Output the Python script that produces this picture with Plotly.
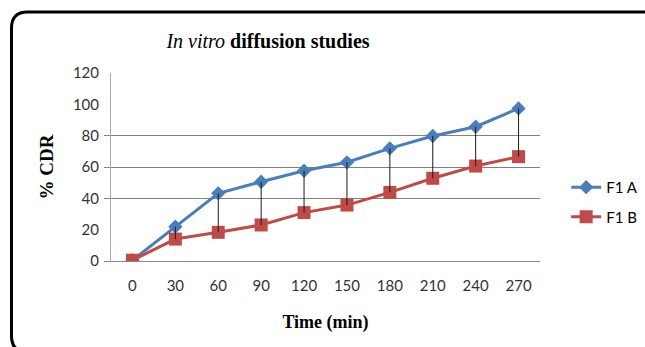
import plotly.graph_objects as go

time_labels = ["0", "30", "60", "90", "120", "150", "180", "210", "240", "270"]
f1a = [0.5, 21.9, 43.2, 50.6, 57.6, 63.0, 71.9, 79.8, 85.7, 97.4]
f1b = [0.5, 14.0, 18.3, 23.0, 30.9, 35.7, 43.8, 52.8, 60.6, 66.6]
grid_vals = [0, 40, 60, 80]
y_ticks = [0, 20, 40, 60, 80, 100, 120]

W, H = 645, 347
L, R, T, B = 111, 105, 73, 86
pw, ph = W - L - R, H - T - B

fig = go.Figure()

fig.add_trace(go.Scatter(
    x=time_labels, y=f1a, name="F1 A", mode="lines+markers",
    line=dict(color="#4A7EBB", width=3),
    marker=dict(symbol="diamond", size=11, color="#4A7EBB"),
    legendgroup="a",
))
fig.add_trace(go.Scatter(
    x=time_labels, y=f1b, name="F1 B", mode="lines+markers",
    line=dict(color="#BE4B48", width=3),
    marker=dict(symbol="square", size=13, color="#BE4B48"),
    legendgroup="b",
))

# high-low drop lines
dx, dy = [], []
for t, a, b in zip(time_labels[1:], f1a[1:], f1b[1:]):
    dx += [t, t, None]
    dy += [a, b, None]
fig.add_trace(go.Scatter(
    x=dx, y=dy, mode="lines", line=dict(color="#1a1a1a", width=1),
    showlegend=False, hoverinfo="skip",
))

# grid axis (overlay)
fig.add_trace(go.Scatter(x=[time_labels[0]], y=[0], yaxis="y2", mode="markers",
                         marker=dict(opacity=0), showlegend=False, hoverinfo="skip"))


def px2paper_x(p):
    return (p - L) / pw


def px2paper_y(p):
    return (H - B - p) / ph


x0, x1 = px2paper_x(11.5), px2paper_x(660)
y0, y1 = px2paper_y(12), px2paper_y(352)
rx, ry = 16 / pw, 16 / ph
path = (f"M {x0},{y1 + ry} L {x0},{y0 - ry} Q {x0},{y0} {x0 + rx},{y0} "
        f"L {x1 - rx},{y0} Q {x1},{y0} {x1},{y0 - ry} "
        f"L {x1},{y1 + ry} Q {x1},{y1} {x1 - rx},{y1} "
        f"L {x0 + rx},{y1} Q {x0},{y1} {x0},{y1 + ry} Z")

fig.update_layout(
    width=W, height=H,
    margin=dict(l=L, r=R, t=T, b=B, autoexpand=False),
    paper_bgcolor="white", plot_bgcolor="white",
    title=dict(
        text="<i>In vitro</i> <b>diffusion studies</b>",
        font=dict(family="Liberation Serif", size=20, color="#000"),
        x=268 / W, xanchor="center", xref="container",
        y=1 - 41 / H, yanchor="middle", yref="container",
    ),
    xaxis=dict(
        type="category", categoryorder="array", categoryarray=time_labels,
        range=[-0.5, 9.5], showgrid=False, showline=True, linecolor="#888",
        linewidth=1, ticks="outside", ticklen=11, tickcolor="rgba(0,0,0,0)",
        tickfont=dict(family="Lato", size=15, color="#333"),
        title=dict(text="<b>Time (min)</b>", standoff=22,
                   font=dict(family="Liberation Serif", size=18, color="#000")),
        zeroline=False,
    ),
    yaxis=dict(
        range=[0, 120], tickvals=y_ticks, showgrid=False, showline=True,
        linecolor="#aaa", linewidth=1, zeroline=False, ticks="outside",
        ticklen=8, tickcolor="rgba(0,0,0,0)",
        tickfont=dict(family="Lato", size=15, color="#333"),
        title=dict(text="<b>% CDR</b>", standoff=14,
                   font=dict(family="Liberation Serif", size=19, color="#000")),
    ),
    yaxis2=dict(
        overlaying="y", range=[0, 120], tickvals=grid_vals, showgrid=True,
        gridcolor="#808080", gridwidth=1, showticklabels=False,
        ticks="outside", ticklen=6, tickcolor="#808080", zeroline=False,
        showline=False,
    ),
    legend=dict(
        x=1.061, y=0.314, xanchor="left", yanchor="middle",
        font=dict(family="Lato", size=15, color="#000"),
        tracegroupgap=7, bgcolor="rgba(0,0,0,0)",
    ),
    shapes=[dict(type="path", xref="paper", yref="paper", path=path,
                 line=dict(color="#000", width=3), fillcolor="rgba(0,0,0,0)",
                 layer="above")],
)

fig.write_html("out.html")
